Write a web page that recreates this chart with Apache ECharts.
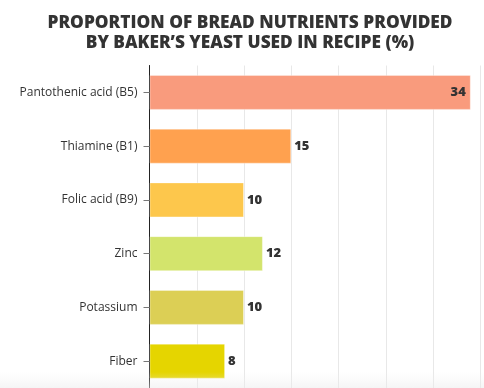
<!DOCTYPE html>
<html>
<head>
<meta charset="utf-8">
<script src="https://cdn.jsdelivr.net/npm/echarts@6/dist/echarts.min.js"></script>
<style>html,body{margin:0;padding:0;background:#fff}#c{width:484px;height:388px}</style>
</head>
<body>
<div id="c"></div>
<script>
const categories = ["Pantothenic acid (B5)", "Thiamine (B1)", "Folic acid (B9)", "Zinc", "Potassium", "Fiber"];
const values = [34, 15, 10, 12, 10, 8];
const barColors = ["#F99B7D", "#FFA14F", "#FDC74C", "#D3E46C", "#DCCF55", "#E5D500"];
const titleLines = ["PROPORTION OF BREAD NUTRIENTS PROVIDED", "BY BAKER\u2019S YEAST USED IN RECIPE (%)"];

const chart = echarts.init(document.getElementById('c'), null, {renderer: 'canvas'});
chart.setOption({
  animation: false,
  title: {
    text: titleLines.join('\n'),
    left: 245, top: 8, textAlign: 'center',
    textStyle: {fontFamily: 'Open Sans', fontWeight: 800, fontSize: 17.3, lineHeight: 20, color: '#333'}
  },
  grid: {left: 149.5, top: 65.5, width: 330.75, height: 330.6, containLabel: false},
  xAxis: {
    type: 'value', min: 0, max: 35, interval: 5,
    axisLabel: {show: false}, axisLine: {show: false}, axisTick: {show: false},
    splitLine: {lineStyle: {color: '#e8e8e8', width: 1}}
  },
  yAxis: {
    type: 'category', data: categories, inverse: true,
    axisLine: {lineStyle: {color: '#222', width: 1}},
    axisTick: {show: true, length: 6, alignWithLabel: true, lineStyle: {color: '#777'}},
    axisLabel: {fontFamily: 'Open Sans', fontSize: 12, color: '#333', margin: 12}
  },
  series: [{
    type: 'bar', barWidth: 35,
    data: values.map((v, i) => ({
      value: v,
      itemStyle: {color: barColors[i], borderColor: 'rgba(255,255,255,0.35)', borderWidth: 1},
      label: i === 0 ? {position: 'insideRight', offset: [0, 0]} : {position: 'right', distance: 3}
    })),
    label: {show: true, fontFamily: 'Open Sans', fontWeight: 800, fontSize: 13, color: '#333'}
  }],
  graphic: [{
    type: 'rect', left: 0, top: 372, shape: {width: 484, height: 16}, silent: true, z: 100,
    style: {fill: new echarts.graphic.LinearGradient(0, 0, 0, 1, [{offset: 0, color: 'rgba(240,240,240,0)'}, {offset: 1, color: 'rgba(235,235,235,0.5)'}])}
  }]
});
</script>
</body>
</html>
